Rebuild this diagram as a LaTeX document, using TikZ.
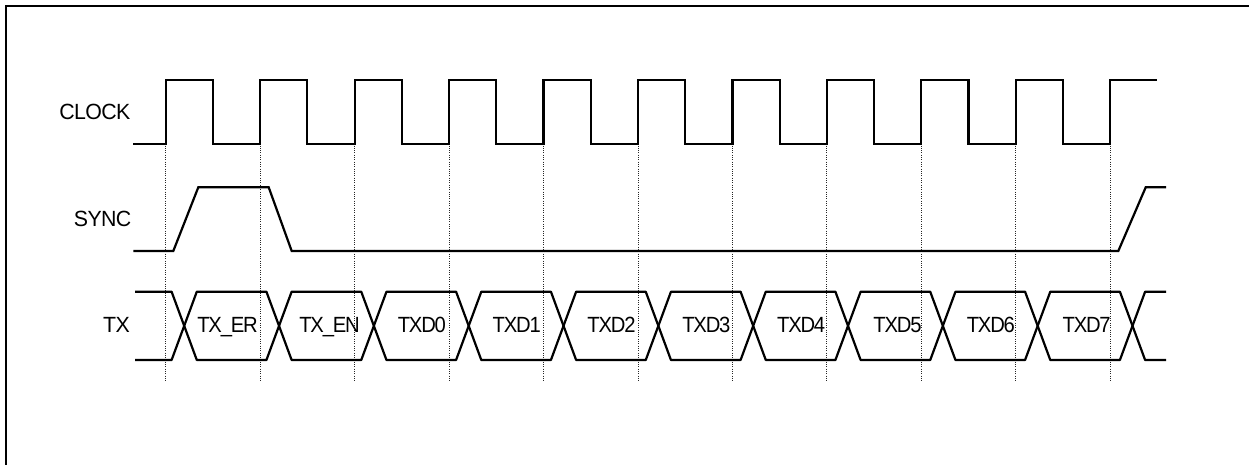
\documentclass[tikz,border=0pt]{standalone}
\usepackage{fontspec}
\setmainfont{Liberation Sans}
\newfontfamily\lblfont{Liberation Sans}[FakeStretch=0.97,LetterSpace=-3]
\newfontfamily\cellfont{Liberation Sans}[FakeStretch=0.92,LetterSpace=-5.5]
\begin{document}
\begin{tikzpicture}[x=1pt,y=-1pt,
  frame/.style={line width=2pt},
  wave/.style={line width=2.2pt, line join=miter},
  bus/.style={line width=2.2pt, line join=round},
  guide/.style={line width=0.9pt, dash pattern=on 1pt off 1.3pt, black!85},
  lbl/.style={font=\lblfont\fontsize{22}{26}\selectfont, inner sep=0pt, anchor=base east},
  cell/.style={font=\cellfont\fontsize{22}{26}\selectfont, inner sep=0pt, anchor=base}]
\useasboundingbox (0,0) rectangle (1249,464);
% frame (only top and left edges visible)
\draw[frame] (6,470) -- (6,6) -- (1255,6);
% parameters
\def\per{94.46}
\def\cper{94.83}
\def\w{12.6}
\def\tp{291.7}
\def\bt{360}
\def\md{325.85}
% signal labels
\node[lbl] (lclk) at (130.5,119.3) {CLOCK};
\node[lbl] (lsync) at (131.5,226.7) {SYNC};
\node[lbl] (ltx) at (130,332.3) {TX};
% guide lines
\foreach \k in {0,...,10}
  \draw[guide] ({165.7+\per*\k},145.5) -- ({165.7+\per*\k},382);
% clock
\draw[wave] (133.3,144.3)
  \foreach \k in {0,...,9} { -- ({165.7+\per*\k},144.3) -- ({165.7+\per*\k},80.3)
     -- ({212.9+\per*\k},80.3) -- ({212.9+\per*\k},144.3) }
  -- (1110.3,144.3) -- (1110.3,80.3) -- (1157,80.3);
% sync
\draw[wave] (133.3,251) -- (173.3,251) -- (198.3,187.3) -- (268.7,187.3)
  -- (291.7,251) -- (1118.3,251) -- (1145.7,187.3) -- (1166,187.3);
% TX bus
\draw[bus] (135,\tp) -- ({184.2-\w},\tp) -- (184.2,\md) -- ({184.2-\w},\bt) -- (135,\bt);
\foreach \k in {0,...,9}
  \draw[bus] ({184.2+\cper*\k},\md) -- ({184.2+\cper*\k+\w},\tp)
    -- ({184.2+\cper*(\k+1)-\w},\tp) -- ({184.2+\cper*(\k+1)},\md)
    -- ({184.2+\cper*(\k+1)-\w},\bt) -- ({184.2+\cper*\k+\w},\bt) -- cycle;
\draw[bus] (1132.5,\md) -- ({1132.5+\w},\tp) -- (1166,\tp);
\draw[bus] (1132.5,\md) -- ({1132.5+\w},\bt) -- (1166,\bt);
% cell labels
\node[cell] (c0) at (227.5,332.5) {TX\_ER};
\node[cell] (c1) at (329.5,332.5) {TX\_EN};
\node[cell] (c2) at ({232.2+\cper*2},332.5) {TXD0};
\node[cell] (c3) at ({232.2+\cper*3},332.5) {TXD1};
\node[cell] (c4) at ({232.2+\cper*4},332.5) {TXD2};
\node[cell] (c5) at ({232.2+\cper*5},332.5) {TXD3};
\node[cell] (c6) at ({232.2+\cper*6},332.5) {TXD4};
\node[cell] (c7) at ({232.2+\cper*7+1.5},332.5) {TXD5};
\node[cell] (c8) at ({232.2+\cper*8},332.5) {TXD6};
\node[cell] (c9) at ({232.2+\cper*9+1},332.5) {TXD7};
\end{tikzpicture}
\end{document}
